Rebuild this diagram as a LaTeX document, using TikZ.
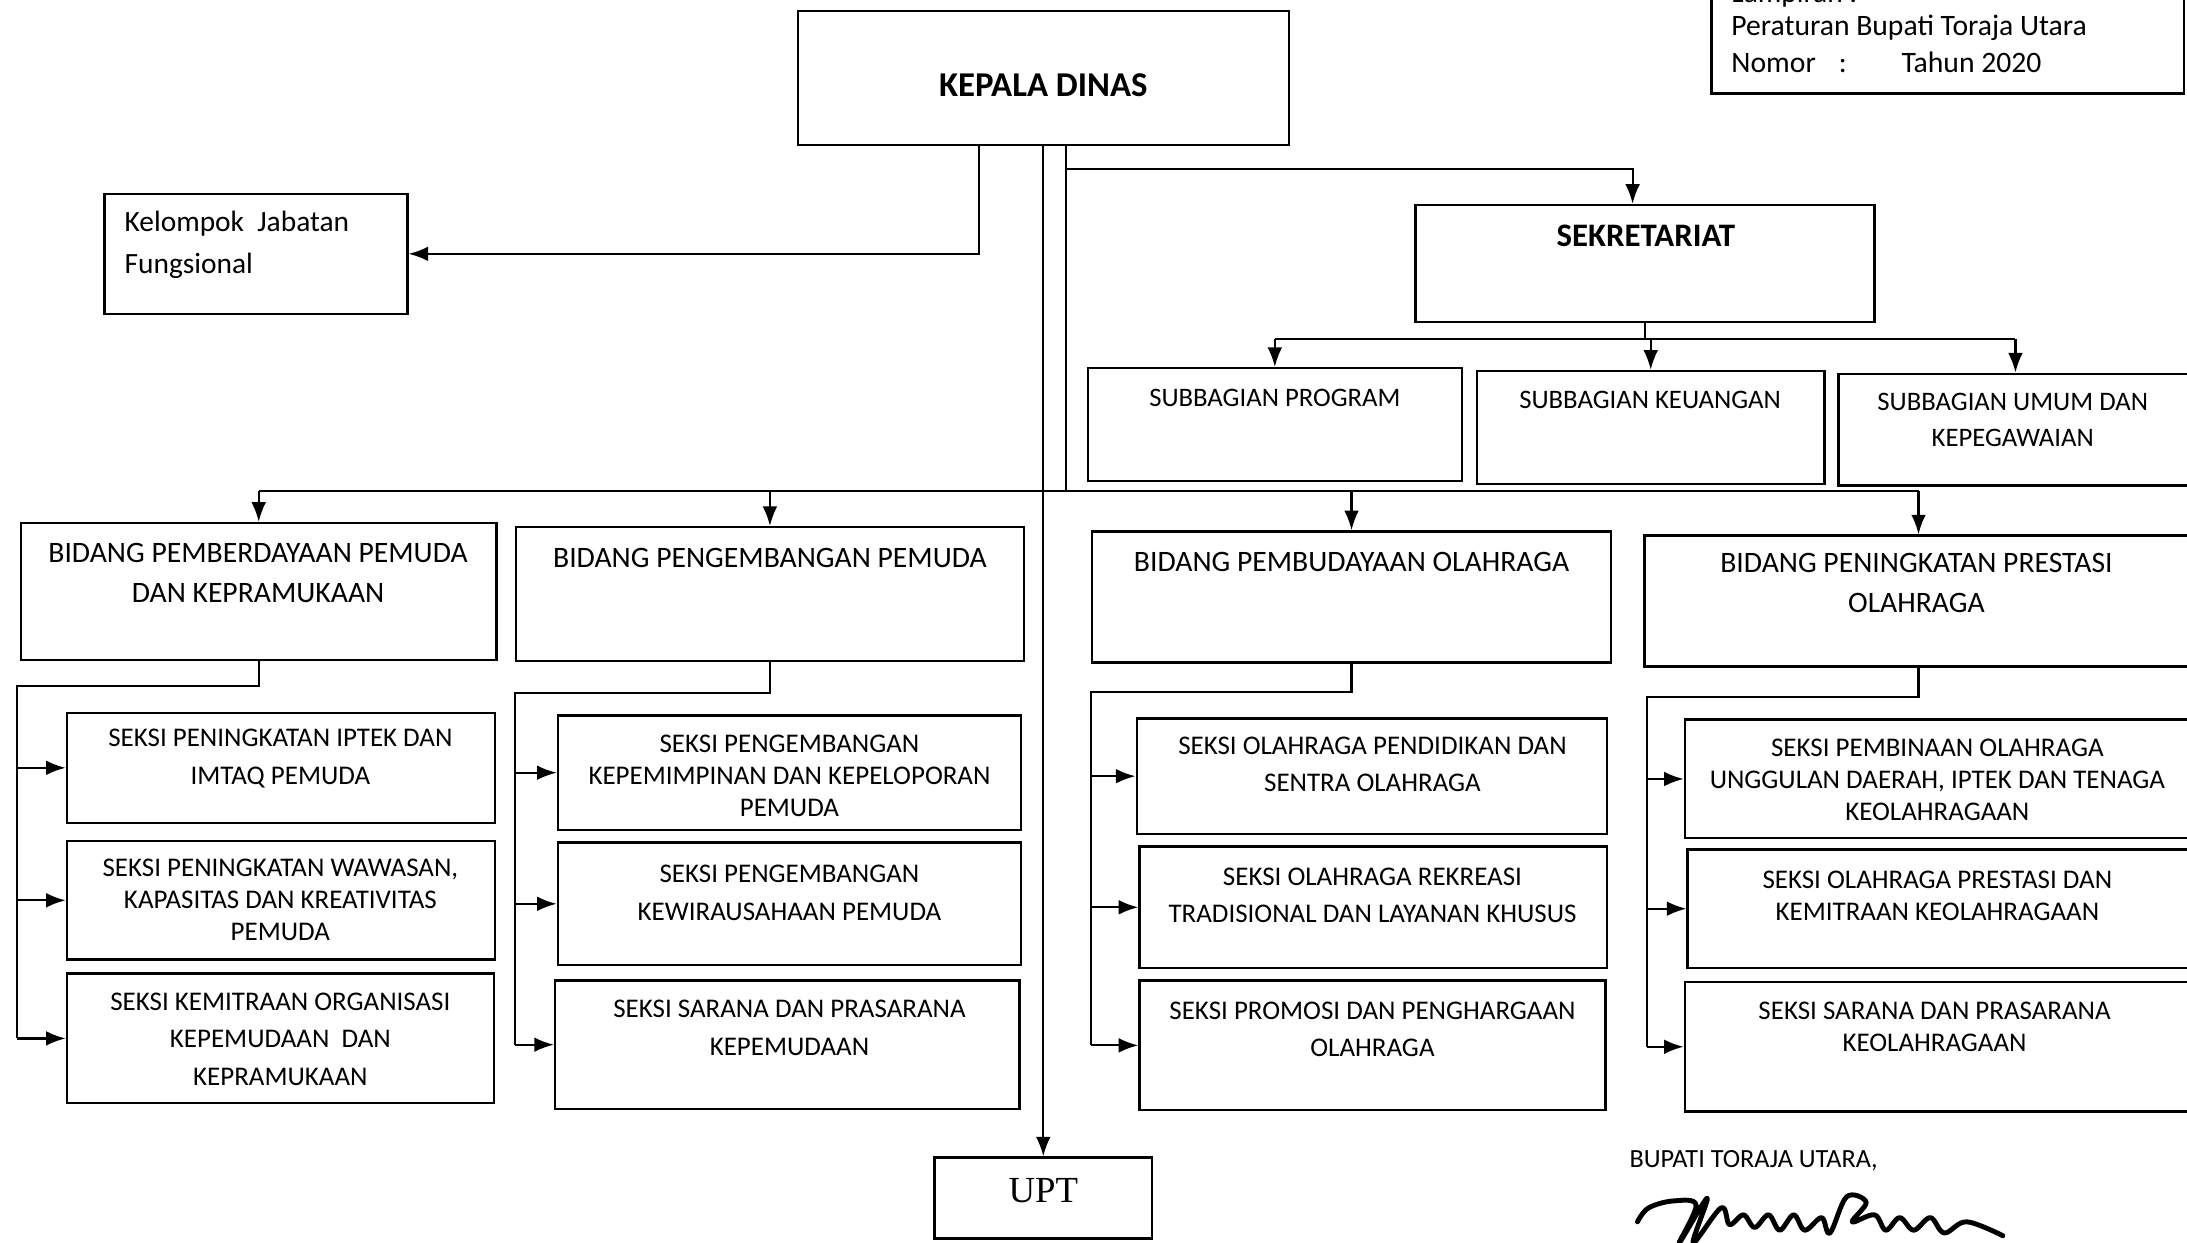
\documentclass[tikz,border=0pt]{standalone}
\usepackage{fontspec}
\setmainfont{Carlito}
\newfontfamily\uptfont{Liberation Serif}
\usetikzlibrary{arrows.meta,fit}
\tikzset{
  box/.style={draw, line width=1pt, inner sep=0pt},
  conn/.style={line width=0.9pt},
  arr/.style={conn, -{Latex[length=8pt,width=6pt]}},
  seksi/.style={align=center, font=\fontsize{11}{15.4}\selectfont},
  seksirapat/.style={align=center, font=\fontsize{11}{13.1}\selectfont},
  bidang/.style={align=center, font=\fontsize{12.1}{16.5}\selectfont},
  subbag/.style={align=center, font=\fontsize{10.9}{14.8}\selectfont},
  sig/.style={line width=2pt, line cap=round, line join=round},
}
\begin{document}
\begin{tikzpicture}[x=0.02cm, y=-0.02cm]
\tikzstyle{every node}+=[inner sep=0pt]
\useasboundingbox (0,0) rectangle (1568,891);
\node [box, fit={(572,8) (924,104)}] (kd) {};
\node [font=\fontsize{14.2}{17}\selectfont\bfseries] (kdt) at (748,61) {KEPALA DINAS};
\node [box, fit={(1227,-12) (1566,67)}] (lamp) {};
\node [anchor=west, font=\fontsize{12}{14}\selectfont] (lamp0) at (1241,-4) {Lampiran :};
\node [anchor=west, font=\fontsize{12.1}{14}\selectfont] (lamp1) at (1241,20) {Peraturan Bupati Toraja Utara};
\node [anchor=west, font=\fontsize{12.1}{14}\selectfont] (lamp2) at (1241,45) {\makebox[1.54cm][l]{Nomor}\makebox[0.9cm][l]{:}Tahun 2020};
\node [box, fit={(75,139) (292,225)}] (kjf) {};
\node [anchor=north west, align=left, font=\fontsize{12}{17}\selectfont] (kjft) at (89,151) {Kelompok\ \ Jabatan\\Fungsional};
\node [box, fit={(1015,147) (1344,231)}] (sek) {};
\node [font=\fontsize{13.4}{16}\selectfont\bfseries] (sekt) at (1180,169) {SEKRETARIAT};
\node [box, fit={(780,264) (1048,345)}] (sub1) {};
\node [subbag] (sub1t) at (914,285) {SUBBAGIAN PROGRAM};
\node [box, fit={(1059,266) (1308,347)}] (sub2) {};
\node [subbag] (sub2t) at (1183,287) {SUBBAGIAN KEUANGAN};
\node [box, fit={(1318,268) (1572,348)}] (sub3) {};
\node [subbag] (sub3t) at (1443,301) {SUBBAGIAN UMUM DAN\\KEPEGAWAIAN};
\node [box, fit={(15,375) (356,473)}] (b1) {};
\node [bidang] (b1t) at (185,411) {BIDANG PEMBERDAYAAN PEMUDA\\DAN KEPRAMUKAAN};
\node [box, fit={(370,378) (734,474)}] (b2) {};
\node [bidang] (b2t) at (552,400) {BIDANG PENGEMBANGAN PEMUDA};
\node [box, fit={(783,381) (1155,475)}] (b3) {};
\node [bidang] (b3t) at (969,403) {BIDANG PEMBUDAYAAN OLAHRAGA};
\node [box, fit={(1179,384) (1572,478)}] (b4) {};
\node [bidang] (b4t) at (1374,418) {BIDANG PENINGKATAN PRESTASI\\OLAHRAGA};
\node [box, fit={(48,511) (355,590)}] (s11) {};
\node [seksi] (s11t) at (201,544) {SEKSI PENINGKATAN IPTEK DAN\\IMTAQ PEMUDA};
\node [box, fit={(48,603) (355,688)}] (s12) {};
\node [seksirapat] (s12t) at (201,645) {SEKSI PENINGKATAN WAWASAN,\\KAPASITAS DAN KREATIVITAS\\PEMUDA};
\node [box, fit={(48,698) (354,791)}] (s13) {};
\node [seksi] (s13t) at (201,745) {SEKSI KEMITRAAN ORGANISASI\\KEPEMUDAAN\ \ DAN\\KEPRAMUKAAN};
\node [box, fit={(400,513) (732,595)}] (s21) {};
\node [seksirapat] (s21t) at (566,556) {SEKSI PENGEMBANGAN\\KEPEMIMPINAN DAN KEPELOPORAN\\PEMUDA};
\node [box, fit={(400,604) (732,692)}] (s22) {};
\node [seksi] (s22t) at (566,640) {SEKSI PENGEMBANGAN\\KEWIRAUSAHAAN PEMUDA};
\node [box, fit={(398,703) (731,795)}] (s23) {};
\node [seksi] (s23t) at (566,737) {SEKSI SARANA DAN PRASARANA\\KEPEMUDAAN};
\node [box, fit={(815,515) (1152,598)}] (s31) {};
\node [seksi] (s31t) at (984,548) {SEKSI OLAHRAGA PENDIDIKAN DAN\\SENTRA OLAHRAGA};
\node [box, fit={(817,607) (1152,694)}] (s32) {};
\node [seksi] (s32t) at (984,642) {SEKSI OLAHRAGA REKREASI\\TRADISIONAL DAN LAYANAN KHUSUS};
\node [box, fit={(817,703) (1151,796)}] (s33) {};
\node [seksi] (s33t) at (984,738) {SEKSI PROMOSI DAN PENGHARGAAN\\OLAHRAGA};
\node [box, fit={(1208,516) (1572,601)}] (s41) {};
\node [seksirapat] (s41t) at (1389,559) {SEKSI PEMBINAAN OLAHRAGA\\UNGGULAN DAERAH, IPTEK DAN TENAGA\\KEOLAHRAGAAN};
\node [box, fit={(1210,609) (1572,694)}] (s42) {};
\node [seksirapat] (s42t) at (1389,642) {SEKSI OLAHRAGA PRESTASI DAN\\KEMITRAAN KEOLAHRAGAAN};
\node [box, fit={(1208,704) (1572,797)}] (s43) {};
\node [seksirapat] (s43t) at (1387,736) {SEKSI SARANA DAN PRASARANA\\KEOLAHRAGAAN};
\node [box, fit={(670,830) (826,888)}] (upt) {};
\node [font=\fontsize{15}{18}\selectfont\uptfont] (uptt) at (748,854) {UPT};
\node [anchor=west, font=\fontsize{10.7}{13}\selectfont] (bupati) at (1168,832) {BUPATI TORAJA UTARA,};
\coordinate (kdR) at (764,121);
\coordinate (bus) at (764,352);
\coordinate (subbus) at (1180,243);
\coordinate (sp1) at (12,492);
\coordinate (sp2) at (369,497);
\coordinate (sp3) at (782,496);
\coordinate (sp4) at (1181,500);
\draw [arr] ([xshift=-0.92cm]kd.south) |- (kjf.east);
\draw [arr] (kd.south) -- (upt.north);
\draw [conn] (kd.south -| kdR) -- (bus);
\draw [arr] (kdR) -| ([xshift=-0.18cm]sek.north);
\draw [conn] (sek.south) -- (sek.south |- subbus);
\draw [conn] (sub1.north |- subbus) -- (sub3.north |- subbus);
\draw [arr] (sub1.north |- subbus) -- (sub1.north);
\draw [arr] (sub2.north |- subbus) -- (sub2.north);
\draw [arr] (sub3.north |- subbus) -- (sub3.north);
\draw [conn] (b1.north |- bus) -- (b4.north |- bus);
\draw [arr] (b1.north |- bus) -- (b1.north);
\draw [arr] (b2.north |- bus) -- (b2.north);
\draw [arr] (b3.north |- bus) -- (b3.north);
\draw [arr] (b4.north |- bus) -- (b4.north);
\draw [conn] (b1.south) |- (sp1) -- (sp1 |- s13.west);
\draw [arr] (sp1 |- s11.west) -- (s11.west);
\draw [arr] (sp1 |- s12.west) -- (s12.west);
\draw [arr] (sp1 |- s13.west) -- (s13.west);
\draw [conn] (b2.south) |- (sp2) -- (sp2 |- s23.west);
\draw [arr] (sp2 |- s21.west) -- (s21.west);
\draw [arr] (sp2 |- s22.west) -- (s22.west);
\draw [arr] (sp2 |- s23.west) -- (s23.west);
\draw [conn] (b3.south) |- (sp3) -- (sp3 |- s33.west);
\draw [arr] (sp3 |- s31.west) -- (s31.west);
\draw [arr] (sp3 |- s32.west) -- (s32.west);
\draw [arr] (sp3 |- s33.west) -- (s33.west);
\draw [conn] (b4.south) |- (sp4) -- (sp4 |- s43.west);
\draw [arr] (sp4 |- s41.west) -- (s41.west);
\draw [arr] (sp4 |- s42.west) -- (s42.west);
\draw [arr] (sp4 |- s43.west) -- (s43.west);
\draw [sig] plot [smooth, tension=0.6] coordinates {(1174,876) (1182,866) (1200,861) (1216,864) (1204,891) (1224,859) (1214,891) (1234,866) (1240,878) (1250,871) (1258,880) (1268,871) (1276,882) (1286,871) (1294,882) (1306,873) (1312,884) (1324,858) (1338,862) (1328,876) (1344,871) (1352,882) (1362,873) (1372,882) (1384,873) (1394,884) (1410,876) (1436,886)};
\end{tikzpicture}
\end{document}
